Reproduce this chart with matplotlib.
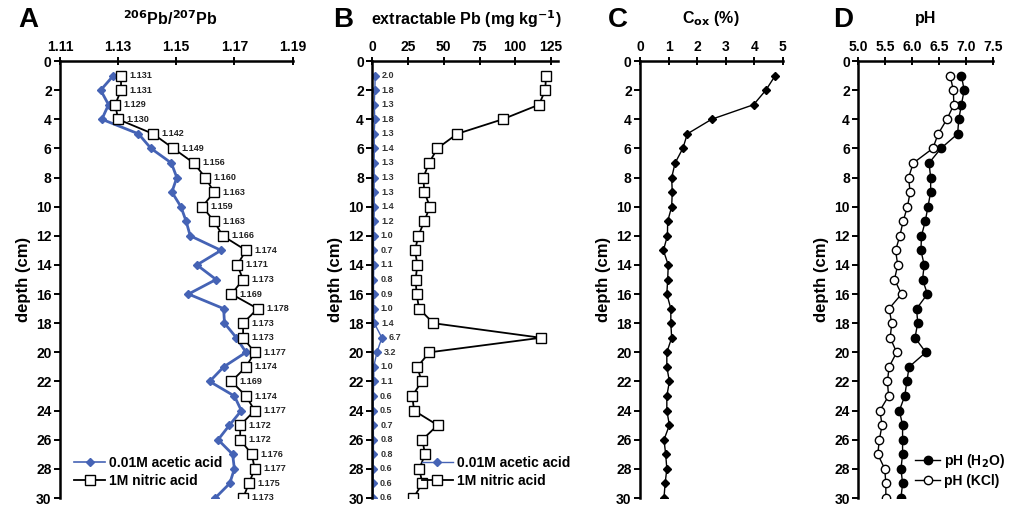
import matplotlib
matplotlib.use("Agg")
import matplotlib.pyplot as plt
from matplotlib.lines import Line2D

plt.rcParams['font.family'] = ['Liberation Sans', 'DejaVu Sans']
plt.rcParams['font.weight'] = 'bold'
plt.rcParams['mathtext.default'] = 'bf'

depth = list(range(1, 31))

# Panel A: 206Pb/207Pb
ratio_acetic = [1.1284, 1.1240, 1.1267, 1.1244, 1.1370, 1.1413, 1.1483, 1.1502, 1.1485, 1.1516,
                1.1534, 1.1548, 1.1654, 1.1571, 1.1637, 1.1542, 1.1663, 1.1666, 1.1707, 1.1740,
                1.1663, 1.1615, 1.1700, 1.1724, 1.1683, 1.1644, 1.1694, 1.1700, 1.1684, 1.1634]
ratio_nitric = [1.131, 1.131, 1.129, 1.130, 1.142, 1.149, 1.156, 1.160, 1.163, 1.159,
                1.163, 1.166, 1.174, 1.171, 1.173, 1.169, 1.178, 1.173, 1.173, 1.177,
                1.174, 1.169, 1.174, 1.177, 1.172, 1.172, 1.176, 1.177, 1.175, 1.173]

# Panel B: extractable Pb (mg/kg)
pb_acetic = [2.0, 1.8, 1.3, 1.8, 1.3, 1.4, 1.3, 1.3, 1.3, 1.4,
             1.2, 1.0, 0.7, 1.1, 0.8, 0.9, 1.0, 1.4, 6.7, 3.2,
             1.0, 1.1, 0.6, 0.5, 0.7, 0.8, 0.8, 0.6, 0.6, 0.6]
pb_nitric = [121.5, 121.0, 116.6, 91.2, 59.4, 45.5, 39.7, 35.7, 36.4, 40.3,
             36.4, 32.2, 29.9, 31.5, 30.3, 31.0, 32.7, 42.7, 118.0, 39.9,
             31.5, 34.5, 28.0, 29.2, 45.7, 35.0, 36.9, 32.9, 35.0, 28.7]

# Panel C: Cox (%)
cox = [4.74, 4.41, 3.98, 2.51, 1.66, 1.50, 1.23, 1.11, 1.13, 1.11,
       0.97, 0.96, 0.82, 0.99, 0.97, 0.94, 1.08, 1.08, 1.11, 0.94,
       0.94, 1.03, 0.94, 0.94, 1.03, 0.84, 0.90, 0.94, 0.88, 0.84]

# Panel D: pH
ph_h2o = [6.91, 6.96, 6.91, 6.86, 6.84, 6.53, 6.31, 6.34, 6.34, 6.29,
          6.24, 6.17, 6.16, 6.22, 6.19, 6.28, 6.08, 6.10, 6.05, 6.25,
          5.94, 5.90, 5.86, 5.76, 5.82, 5.82, 5.82, 5.79, 5.82, 5.79]
ph_kcl = [6.70, 6.76, 6.77, 6.64, 6.48, 6.38, 6.02, 5.93, 5.96, 5.91,
          5.83, 5.77, 5.69, 5.73, 5.67, 5.80, 5.57, 5.62, 5.59, 5.71,
          5.57, 5.54, 5.56, 5.40, 5.44, 5.39, 5.36, 5.49, 5.51, 5.51]

depth_ticks = list(range(0, 31, 2))
ticks_a = [1.11, 1.13, 1.15, 1.17, 1.19]
ticks_b = [0, 25, 50, 75, 100, 125]
ticks_c = [0, 1, 2, 3, 4, 5]
ticks_d = [5.0, 5.5, 6.0, 6.5, 7.0, 7.5]

BLUE = '#4563b5'
W, H = 1011, 507
fig = plt.figure(figsize=(W / 100, H / 100), dpi=100)

Y_TOP, Y_BOT = 61, 498
bottom = 1 - Y_BOT / H
height = (Y_BOT - Y_TOP) / H


def make_ax(x0, x1):
    return fig.add_axes([x0 / W, bottom, (x1 - x0) / W, height])


def style(ax, xlim, xticks, xlabels):
    ax.set_ylim(30, 0)
    ax.set_xlim(*xlim)
    ax.xaxis.tick_top()
    ax.set_xticks(xticks)
    ax.set_xticklabels(xlabels, fontsize=10, fontweight='bold')
    ax.set_yticks(depth_ticks)
    ax.set_yticklabels([str(t) for t in depth_ticks], fontsize=10, fontweight='bold')
    for s in ['right', 'bottom']:
        ax.spines[s].set_visible(False)
    for s in ['top', 'left']:
        ax.spines[s].set_linewidth(1.8)
    ax.tick_params(axis='x', direction='inout', length=6, width=1.4, pad=2)
    ax.tick_params(axis='y', direction='out', length=4, width=1.4, pad=2)
    ax.set_ylabel('depth (cm)', fontsize=12, fontweight='bold', labelpad=4)
    ax.patch.set_alpha(0)


sq = dict(marker='s', markersize=7, markerfacecolor='white', markeredgecolor='black',
          markeredgewidth=1.0, color='black', linewidth=1.3)

# ---- Panel A
axA = make_ax(60, 292.5)
axA.plot(ratio_nitric, depth, **sq, zorder=3)
axA.plot(ratio_acetic, depth, color=BLUE, marker='D', markersize=4.5, linewidth=2.0, zorder=2)
for v, d in zip(ratio_nitric, depth):
    axA.annotate(f'{v:.3f}', (v, d), xytext=(6, 0), textcoords='offset points',
                 fontsize=6.5, fontweight='bold', va='center', ha='left', color='#222222')
style(axA, (1.11, 1.19), ticks_a, [f'{t:.2f}' for t in ticks_a])
axA.legend(handles=[Line2D([], [], color=BLUE, marker='D', markersize=4.5, linewidth=1.2),
                    Line2D([], [], **sq)],
           labels=['0.01M acetic acid', '1M nitric acid'],
           loc='lower left', bbox_to_anchor=(0.02, 0.0), frameon=False,
           prop={'weight': 'bold', 'size': 10}, handlelength=2.2, handletextpad=0.3,
           borderaxespad=0.3, labelspacing=0.3)

# ---- Panel B
axB = make_ax(372.3, 557.7)
axB.plot(pb_nitric, depth, **sq, zorder=3)
axB.plot(pb_acetic, depth, color=BLUE, marker='D', markersize=4, linewidth=1.0, zorder=2)
for v, d in zip(pb_acetic, depth):
    axB.annotate(f'{v:.1f}', (v, d), xytext=(5, 0), textcoords='offset points',
                 fontsize=6.5, fontweight='bold', va='center', ha='left', color='#333333')
style(axB, (0, 129.7), ticks_b, [str(t) for t in ticks_b])
axB.legend(handles=[Line2D([], [], color=BLUE, marker='D', markersize=4.5, linewidth=1.0),
                    Line2D([], [], **sq)],
           labels=['0.01M acetic acid', '1M nitric acid'],
           loc='lower right', bbox_to_anchor=(1.12, 0.0), frameon=False,
           prop={'weight': 'bold', 'size': 10}, handlelength=2.2, handletextpad=0.3,
           borderaxespad=0.3, labelspacing=0.3)

# ---- Panel C
axC = make_ax(640, 782.7)
axC.plot(cox, depth, color='black', marker='D', markersize=4.5, linewidth=1.0)
style(axC, (0, 5), ticks_c, [str(t) for t in ticks_c])

# ---- Panel D
axD = make_ax(858.3, 993.3)
axD.plot(ph_h2o, depth, color='black', marker='o', markersize=6, markerfacecolor='black',
         linewidth=1.0, label='pH (H$_2$O)')
axD.plot(ph_kcl, depth, color='black', marker='o', markersize=6, markerfacecolor='white',
         markeredgewidth=1.0, linewidth=1.0, label='pH (KCl)')
style(axD, (5.0, 7.5), ticks_d, [f'{t:.1f}' for t in ticks_d])
axD.legend(loc='lower right', bbox_to_anchor=(1.16, 0.0), frameon=False,
           prop={'weight': 'bold', 'size': 10}, handlelength=1.8, handletextpad=0.3,
           borderaxespad=0.3, labelspacing=0.3)

# Titles and panel letters
titles = [('$^{206}$Pb/$^{207}$Pb', 170), ('extractable Pb (mg kg$^{-1}$)', 466),
          ('C$_{ox}$ (%)', 711), ('pH', 926)]
for txt, xc in titles:
    fig.text(xc / W, 1 - 19 / H, txt, ha='center', va='center', fontsize=11.5, fontweight='bold')
for letter, xc in [('A', 28), ('B', 343), ('C', 618), ('D', 843)]:
    fig.text(xc / W, 1 - 20 / H, letter, ha='center', va='center', fontsize=20, fontweight='bold')

fig.savefig('out.png', dpi=100)
